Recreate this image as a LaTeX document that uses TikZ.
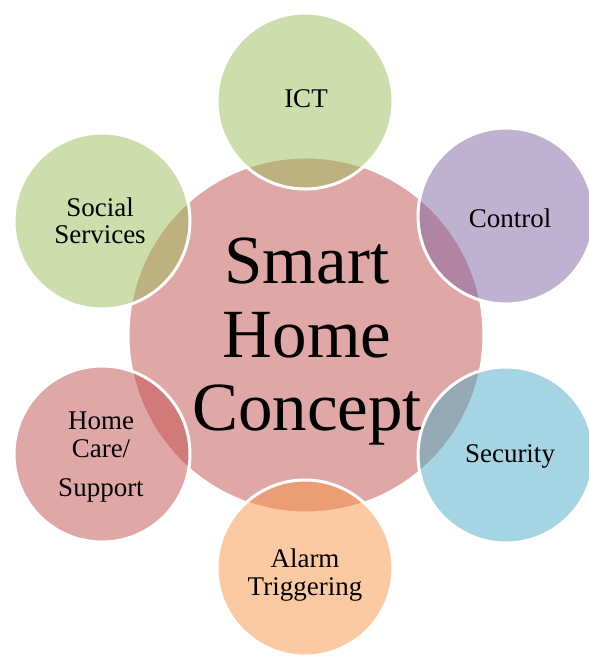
\documentclass[tikz,border=0pt]{standalone}
\usepackage{fontspec}
\setmainfont{Liberation Serif}
\definecolor{redB}{HTML}{C0504D}
\definecolor{greenB}{HTML}{9BBB59}
\definecolor{purpleB}{HTML}{8064A2}
\definecolor{aquaB}{HTML}{4BACC6}
\definecolor{orangeB}{HTML}{F79646}
\begin{document}
\begin{tikzpicture}[x=1pt,y=-1pt,
  sat/.style={circle,minimum size=176pt,inner sep=0pt,fill opacity=0.5,draw=white,draw opacity=1,line width=3pt},
  lbl/.style={anchor=base,font=\fontsize{27}{27}\selectfont,text=black,inner sep=0pt},
  big/.style={anchor=base,font=\fontsize{69}{69}\selectfont,text=black,inner sep=0pt}]
\useasboundingbox (0,0) rectangle (589,657);
\node[circle,minimum size=356pt,inner sep=0pt,fill=redB,fill opacity=0.5,draw=white,draw opacity=1,line width=3pt] (hub) at (306,335) {};
\node[sat,fill=greenB] (ict) at (305,101) {};
\node[sat,fill=purpleB] (ctrl) at (506,216) {};
\node[sat,fill=aquaB] (sec) at (506,455) {};
\node[sat,fill=orangeB] (alarm) at (305,568) {};
\node[sat,fill=redB] (care) at (102,454) {};
\node[sat,fill=greenB] (soc) at (102,221) {};
% central text
\node[big] (t1) at (307,283) {Smart};
\node[big] (t2) at (307,357) {Home};
\node[big] (t3) at (307,430) {Concept};
% labels
\node[lbl] (ictL) at (306,107) {ICT};
\node[lbl] (ctrlL) at (510,227) {Control};
\node[lbl] (secL) at (510,462) {Security};
\node[lbl] (alarmA) at (305,567) {Alarm};
\node[lbl] (alarmB) at (305,595) {Triggering};
\node[lbl] (careA) at (101,429) {Home};
\node[lbl] (careB) at (101,457) {Care/};
\node[lbl] (careC) at (101,496) {Support};
\node[lbl] (socA) at (100,216) {Social};
\node[lbl] (socB) at (100,243) {Services};
\end{tikzpicture}
\end{document}
